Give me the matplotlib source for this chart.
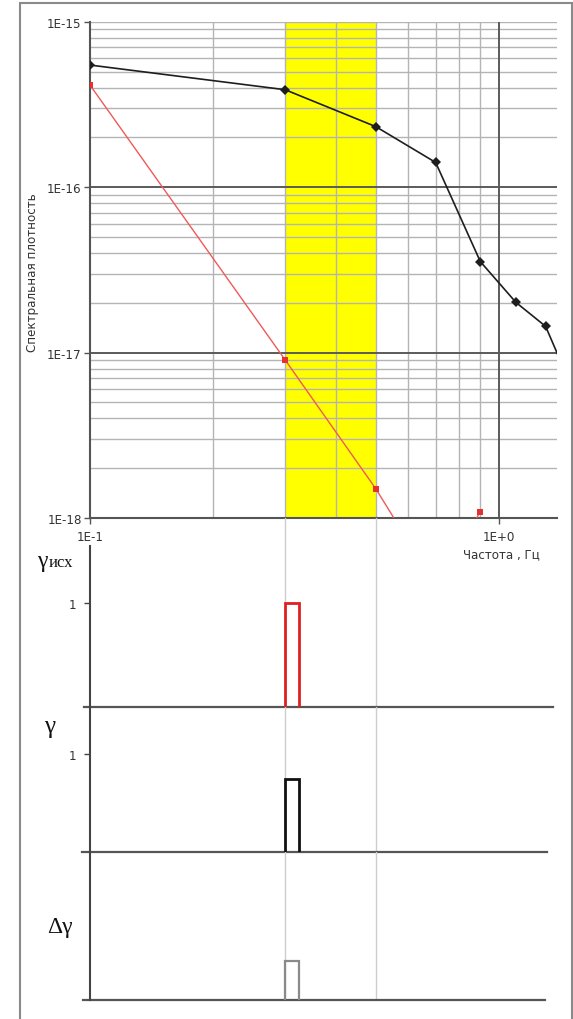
import matplotlib
matplotlib.use("Agg")
import matplotlib.pyplot as plt
from matplotlib.patches import Rectangle
from matplotlib.ticker import FixedLocator, NullFormatter, NullLocator

# ---- data -------------------------------------------------------------
# spectral density (black curve with diamond markers)
freq_black = [0.1, 0.3, 0.5, 0.7, 0.9, 1.1, 1.3, 1.39]
psd_black = [5.47e-16, 3.88e-16, 2.32e-16, 1.41e-16, 3.55e-17, 2.01e-17, 1.44e-17, 9.8e-18]

# spectral density (red curve with square markers)
freq_red = [0.1, 0.3, 0.5, 0.7, 0.9]
psd_red = [4.14e-16, 9.03e-18, 1.50e-18, 3.9e-19, 1.09e-18]

# highlighted frequency band, Hz
band = [0.3, 0.5]

# coherence pulses at the lower band edge
pulse_freq = [0.3, 0.3235]
gamma_src = 1.0
gamma_est = 0.74
gamma_delta = 0.26

y_ticks = [1e-15, 1e-16, 1e-17, 1e-18]
y_ticklabels = ["1E-15", "1E-16", "1E-17", "1E-18"]
x_ticks = [0.1, 1.0]
x_ticklabels = ["1E-1", "1E+0"]

# ---- figure -----------------------------------------------------------
W, H, DPI = 573, 1020, 100
fig = plt.figure(figsize=(W / DPI, H / DPI), dpi=DPI, facecolor="white")

SANS = ["DejaVu Sans"]
SERIF = ["Liberation Serif", "DejaVu Serif"]
TXT = "#333333"
AXC = "#555555"
MINOR = "#b4b4b4"
MAJOR = "#5a5a5a"
GUIDE = "#cdcdcd"
FS = 8.6


def px_axes(x0, y0, x1, y1):
    return fig.add_axes([x0 / W, 1 - y1 / H, (x1 - x0) / W, (y1 - y0) / H])


# outer frame
fig.add_artist(Rectangle((20 / W, -0.01), (572 - 20) / W, 1 - 4 / H + 0.01,
                         transform=fig.transFigure, fill=False,
                         edgecolor="#8a8a8a", linewidth=1.5))

# ---- spectral density panel ------------------------------------------
ax = px_axes(90, 22.7, 557, 519)
ax.set_xscale("log")
ax.set_yscale("log")
xmax = 1.386
ax.set_xlim(0.1, xmax)
ax.set_ylim(1e-18, 1e-15)

ax.axvspan(band[0], band[1], color="#ffff00", lw=0, zorder=0.1)

minor_x = [m * 0.1 for m in range(2, 10)]
minor_y = [m * 10.0 ** e for e in (-18, -17, -16) for m in range(2, 10)]
ax.xaxis.set_minor_locator(FixedLocator(minor_x))
ax.yaxis.set_minor_locator(FixedLocator(minor_y))
ax.xaxis.set_minor_formatter(NullFormatter())
ax.yaxis.set_minor_formatter(NullFormatter())
ax.grid(which="minor", color=MINOR, linewidth=1.0, zorder=0.5)
ax.grid(which="major", visible=False)
ax.set_axisbelow(True)
ax.axhline(1e-15, color=MINOR, linewidth=1.0, zorder=0.5)
for yv in (1e-16, 1e-17):
    ax.axhline(yv, color=MAJOR, linewidth=1.4, zorder=0.6)
ax.axvline(1.0, color=MAJOR, linewidth=1.4, zorder=0.6)

ax.set_yticks(y_ticks)
ax.set_yticklabels(y_ticklabels)
ax.set_xticks(x_ticks)
ax.set_xticklabels(x_ticklabels)
ax.tick_params(which="minor", length=0)
ax.tick_params(axis="y", which="major", length=4, width=1, color=AXC,
               labelsize=FS, labelcolor=TXT, pad=2)
ax.tick_params(axis="x", which="major", length=4, width=1, color=AXC,
               labelsize=FS, labelcolor=TXT, pad=5)
for s in ("top", "right"):
    ax.spines[s].set_visible(False)
for s in ("left", "bottom"):
    ax.spines[s].set_color(AXC)
    ax.spines[s].set_linewidth(1.5)

ax.plot(freq_red, psd_red, color="#ee5a5a", linewidth=1.0, marker="s",
        markersize=3.8, markerfacecolor="#e83030", markeredgewidth=0, zorder=3)
ax.plot(freq_black, psd_black, color="#1e1e1e", linewidth=1.2, marker="D",
        markersize=4.8, markeredgewidth=0, markevery=list(range(len(freq_black) - 1)),
        zorder=4)

fig.text(33 / W, 1 - 273 / H, "Спектральная плотность", rotation=90,
         ha="center", va="center", fontsize=FS, color=TXT, family=SANS)
fig.text(501 / W, 1 - 555 / H, "Частота , Гц", ha="center", va="center",
         fontsize=FS, color=TXT, family=SANS)


# ---- coherence panels -------------------------------------------------
def pulse_panel(y0, y1, ytop, spine_top, bx0, bx1, tick_one):
    p = px_axes(90, y0, 557, y1)
    p.set_xscale("log")
    p.set_xlim(0.1, xmax)
    p.set_ylim(0, ytop)
    p.xaxis.set_major_locator(NullLocator())
    p.xaxis.set_minor_locator(NullLocator())
    for s in ("top", "right", "bottom"):
        p.spines[s].set_visible(False)
    p.spines["left"].set_color("#444444")
    p.spines["left"].set_linewidth(1.5)
    p.spines["left"].set_bounds(0, spine_top)
    p.yaxis.set_minor_locator(NullLocator())
    if tick_one:
        p.set_yticks([1])
        p.set_yticklabels(["1"])
        p.tick_params(axis="y", length=4, width=1, color="#444444",
                      labelsize=FS, labelcolor=TXT, pad=6)
    else:
        p.set_yticks([])
    p.patch.set_alpha(0)
    for f in band:
        p.axvline(f, color=GUIDE, linewidth=1.0, zorder=0.5)
    p.axhline(0, xmin=bx0, xmax=bx1, color=AXC, linewidth=1.6,
              clip_on=False, zorder=2)
    return p


def draw_pulse(p, value, color, lw):
    x0, x1 = pulse_freq
    p.plot([x0, x0, x1, x1], [0, value, value, 0], color=color,
           linewidth=lw, solid_joinstyle="miter", zorder=3)


p1 = pulse_panel(519, 708, (708 - 519) / 104, (708 - 547) / 104,
                 -0.0128, 0.991, True)
draw_pulse(p1, gamma_src, "#e02020", 2.0)

p2 = pulse_panel(708, 853, (853 - 708) / 98, (853 - 708) / 98,
                 -0.017, 0.979, True)
draw_pulse(p2, gamma_est, "#111111", 2.0)

p3 = pulse_panel(853, 1000.7, 1.0, 1.0, -0.015, 0.974, False)
draw_pulse(p3, gamma_delta, "#8a8a8a", 1.6)

# panel symbols
fig.text(37 / W, 1 - 567 / H, "γ", ha="left", va="baseline", fontsize=17,
         color="#111111", family=SERIF)
fig.text(49 / W, 1 - 567 / H, "исх", ha="left", va="baseline", fontsize=12,
         color="#111111", family=SERIF)
fig.text(50 / W, 1 - 727 / H, "γ", ha="center", va="center", fontsize=18,
         color="#111111", family=SERIF)
fig.text(60 / W, 1 - 928 / H, "Δγ", ha="center", va="center", fontsize=17,
         color="#111111", family=SERIF)

fig.savefig("out.png", dpi=DPI, facecolor="white")
